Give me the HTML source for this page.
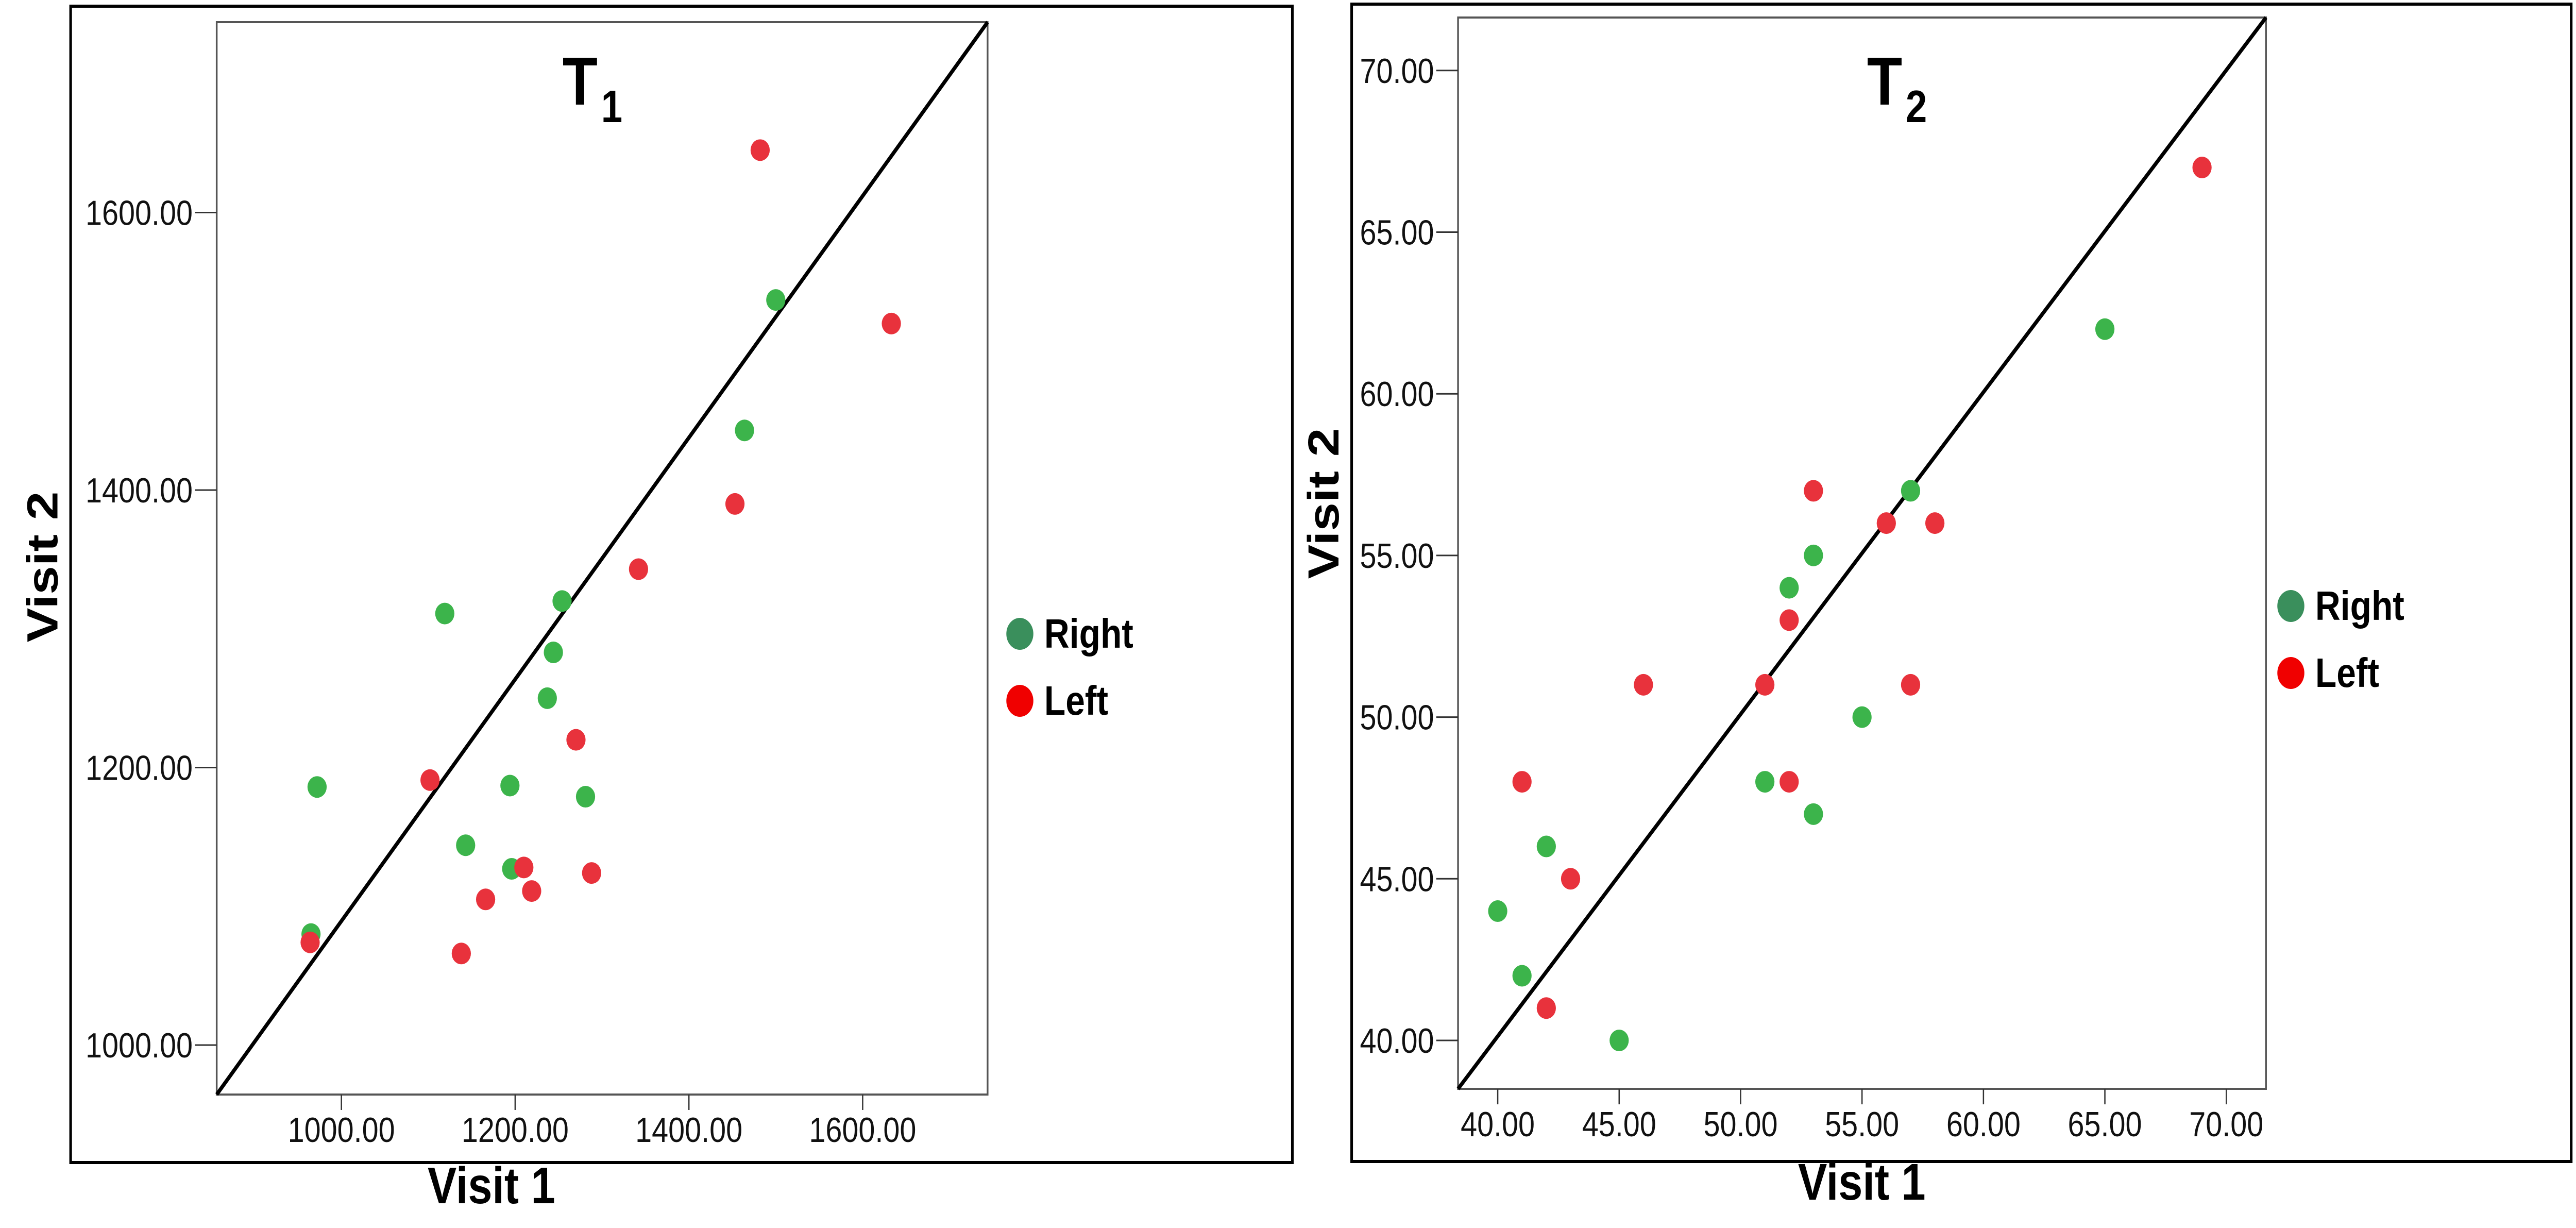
<!DOCTYPE html>
<html><head><meta charset="utf-8"><style>
html,body{margin:0;padding:0;background:#fff;overflow:hidden;width:100%;height:100%;}
svg{display:block;font-family:"Liberation Sans",Arial,sans-serif;width:100vw;height:100vh;}
</style></head><body>
<svg id="chart" xmlns="http://www.w3.org/2000/svg" viewBox="0 0 5908 2383" preserveAspectRatio="none">
<rect x="0" y="0" width="5908" height="2383" fill="#fff"/>
<g id="p1"></g>
<g id="p2"></g>
</svg>
<script>
// ---- Panel T1 data ----
const t1XTicks = [1000, 1200, 1400, 1600];
const t1YTicks = [1000, 1200, 1400, 1600];
const t1RightX = [1500, 1464, 1254, 1119, 1244, 1237, 972, 1194, 1281, 1143, 1196, 965];
const t1RightY = [1537, 1443, 1320, 1311, 1283, 1250, 1186, 1187, 1179, 1144, 1127, 1080];
const t1LeftX = [1482, 1633, 1453, 1342, 1270, 1102, 1210, 1288, 1219, 1166, 1138, 964];
const t1LeftY = [1645, 1520, 1390, 1343, 1220, 1191, 1128, 1124, 1111, 1105, 1066, 1074];
// ---- Panel T2 data ----
const t2XTicks = [40, 45, 50, 55, 60, 65, 70];
const t2YTicks = [40, 45, 50, 55, 60, 65, 70];
const t2RightX = [65, 57, 53, 52, 55, 51, 53, 42, 40, 41, 45];
const t2RightY = [62, 57, 55, 54, 50, 48, 47, 46, 44, 42, 40];
const t2LeftX = [69, 53, 56, 58, 52, 51, 46, 57, 41, 52, 43, 42];
const t2LeftY = [67, 57, 56, 56, 53, 51, 51, 51, 48, 48, 45, 41];
const seriesNames = ["Right", "Left"];

const NS = "http://www.w3.org/2000/svg";
function mk(parent, tag, attrs, text) {
  const e = document.createElementNS(NS, tag);
  for (const k in attrs) e.setAttribute(k, attrs[k]);
  if (text !== undefined) e.textContent = text;
  parent.appendChild(e);
  return e;
}

function panel(g, cfg) {
  const sx = v => cfg.x0px + (v - cfg.x0v) * cfg.xs;
  const sy = v => cfg.y0px - (v - cfg.y0v) * cfg.ys;
  const f = cfg.frame;
  const frame = mk(g, "rect", {x: f[0], y: f[1], width: f[2] - f[0], height: f[3] - f[1], fill: "none", stroke: "#000", "stroke-width": 6});
  
  
  const p = cfg.plot;
  const pr = mk(g, "rect", {x: p[0], y: p[1], width: p[2] - p[0], height: p[3] - p[1], fill: "#fff", stroke: "#555", "stroke-width": 4});
  
  
  cfg.xt.forEach(v => {
    const x = sx(v);
    const t = mk(g, "line", {x1: x, y1: p[3], x2: x, y2: p[3] + 30, stroke: "#333", "stroke-width": 3});
    
    
    const l = mk(g, "text", {x: x, y: p[3] + 92, "font-size": 68, "text-anchor": "middle", fill: "#111"}, v.toFixed(2));
    
    
  });
  cfg.yt.forEach(v => {
    const y = sy(v);
    const t = mk(g, "line", {x1: p[0] - 50, y1: y, x2: p[0], y2: y, stroke: "#333", "stroke-width": 3});
    
    
    const l = mk(g, "text", {x: p[0] - 55, y: y + 24, "font-size": 68, "text-anchor": "end", fill: "#111"}, v.toFixed(2));
    
    
  });
  const d = mk(g, "line", {x1: p[0], y1: p[3], x2: p[2], y2: p[1], stroke: "#000", "stroke-width": 8});
  
  
  cfg.rx.forEach((v, i) => {
    const c = mk(g, "ellipse", {cx: sx(v), cy: sy(cfg.ry[i]), rx: 22, ry: 21, fill: "#3cb44b"});
    
    
  });
  cfg.lx.forEach((v, i) => {
    const c = mk(g, "ellipse", {cx: sx(v), cy: sy(cfg.ly[i]), rx: 22, ry: 21, fill: "#e8323c"});
    
    
  });
  const tt = mk(g, "text", {x: cfg.title[0], y: cfg.title[1], "font-size": 132, "font-weight": "bold", fill: "#000"}, "T");
  
  
  const ts = mk(tt, "tspan", {"font-size": 88, dx: 8, dy: 34}, cfg.sub);
  
  
  const xa = mk(g, "text", {x: cfg.xl[0], y: cfg.xl[1], "font-size": 100, "font-weight": "bold", "text-anchor": "middle", fill: "#000"}, "Visit 1");
  
  
  const ya = mk(g, "text", {x: 0, y: 0, "font-size": 100, "font-weight": "bold", "text-anchor": "middle", fill: "#000", transform: "translate(" + cfg.yl[0] + "," + cfg.yl[1] + ") rotate(-90)"}, "Visit 2");
  
  
  const cols = ["#3a8f5c", "#f00000"];
  seriesNames.forEach((n, i) => {
    const cy = cfg.leg[1] + i * 130;
    const lg = mk(g, "g", {});
    
    
    mk(lg, "circle", {cx: cfg.leg[0], cy: cy, r: 31, fill: cols[i]});
    mk(lg, "text", {x: cfg.leg[0] + 56, y: cy + 27, "font-size": 80, "font-weight": "bold", fill: "#000"}, n);
  });
}

panel(document.getElementById("p1"), {
  frame: [162, 12, 2964, 2256], plot: [497, 43, 2265, 2124],
  x0v: 1000, x0px: 783, xs: 1.9925, y0v: 1000, y0px: 2028, ys: 2.6925,
  xt: t1XTicks, yt: t1YTicks, rx: t1RightX, ry: t1RightY, lx: t1LeftX, ly: t1LeftY,
  title: [1290, 203], sub: "1", xl: [1127, 2335], yl: [132, 1100], leg: [2339, 1230]
});
panel(document.getElementById("p2"), {
  frame: [3100, 8, 5897, 2254], plot: [3344, 34, 5197, 2113],
  x0v: 40, x0px: 3435, xs: 55.7, y0v: 40, y0px: 2019, ys: 62.74,
  xt: t2XTicks, yt: t2YTicks, rx: t2RightX, ry: t2RightY, lx: t2LeftX, ly: t2LeftY,
  title: [4282, 203], sub: "2", xl: [4270, 2328], yl: [3070, 977], leg: [5254, 1176]
});
</script>
</body></html>
